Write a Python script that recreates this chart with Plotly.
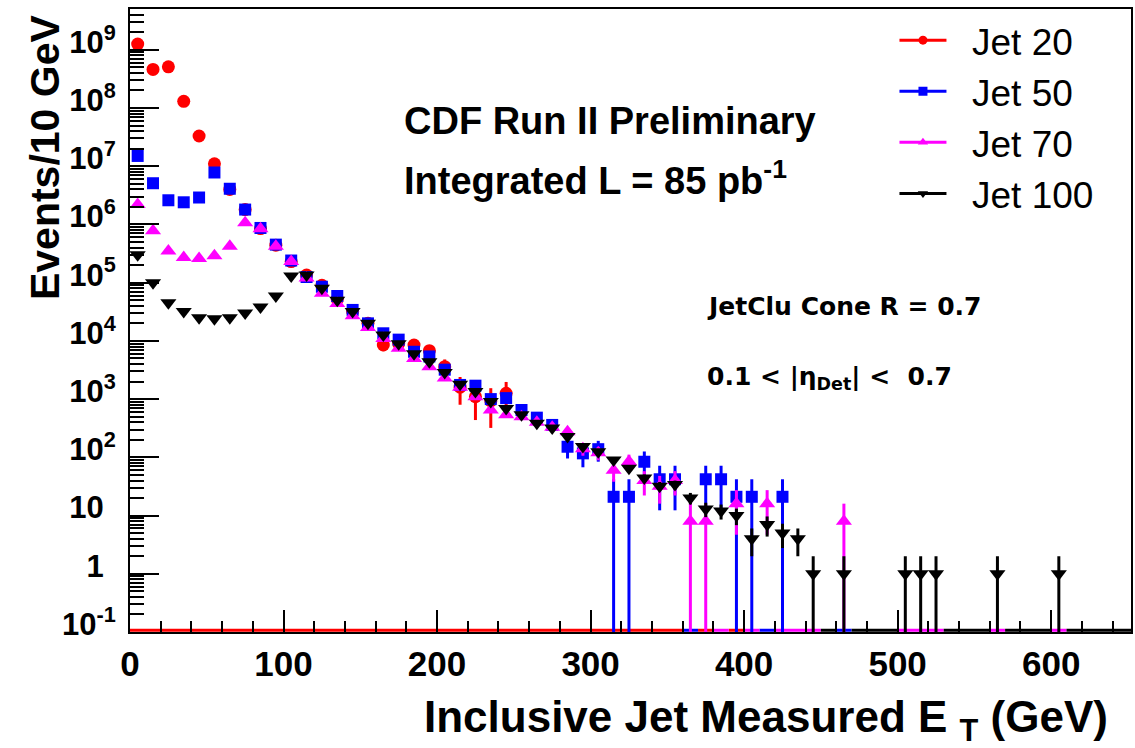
import math
import plotly.graph_objects as go

# ---------------- data (bin centres in GeV, events / 10 GeV) ----------------
jet20_et = [5, 15, 25, 35, 45, 55, 65, 75, 85, 95, 105, 115, 125, 135, 145, 155,
            165, 175, 185, 195, 205, 215, 225, 235, 245]
jet20_ev = [1.25e9, 4.6e8, 5.1e8, 1.3e8, 3.3e7, 1.1e7, 4.0e6, 1.8e6, 8.5e5, 4.4e5,
            2.3e5, 1.35e5, 9.0e4, 5.2e4, 3.2e4, 2.0e4, 8.5e3, 9.0e3, 8.5e3, 6.8e3,
            3.6e3, 1.6e3, 1.1e3, 9.3e2, 1.26e3]

jet50_et = [5, 15, 25, 35, 45, 55, 65, 75, 85, 95, 105, 115, 125, 135, 145, 155,
            165, 175, 185, 195, 205, 215, 225, 235, 245, 255, 265, 275, 285, 295,
            305, 315, 325, 335, 345, 355, 375, 385, 395, 405, 425]
jet50_ev = [1.5e7, 5.1e6, 2.6e6, 2.4e6, 2.9e6, 7.8e6, 4.1e6, 1.8e6, 8.7e5, 4.5e5,
            2.4e5, 1.25e5, 8.5e4, 5.9e4, 3.4e4, 2.0e4, 1.35e4, 1.05e4, 6.5e3, 5.4e3,
            3.2e3, 1.75e3, 1.7e3, 1.0e3, 1.04e3, 650, 480, 360, 152, 117,
            138, 21, 21, 84, 42, 42, 42, 42, 21, 21, 21]

jet70_et = [5, 15, 25, 35, 45, 55, 65, 75, 85, 95, 105, 115, 125, 135, 145, 155,
            165, 175, 185, 195, 205, 215, 225, 235, 245, 255, 265, 275, 285, 295,
            305, 315, 325, 335, 345, 355, 365, 375, 395, 415, 465]
jet70_ev = [2.2e6, 7.8e5, 3.5e5, 2.7e5, 2.6e5, 2.9e5, 4.2e5, 1.07e6, 8.4e5, 4.2e5,
            2.3e5, 1.2e5, 6.6e4, 4.4e4, 2.7e4, 1.7e4, 1.1e4, 7.5e3, 5.0e3, 3.6e3,
            2.3e3, 1.6e3, 1.1e3, 650, 540, 500, 400, 330, 275, 140,
            120, 60, 85, 40, 32, 40, 8, 8, 16, 16, 8]

jet100_et = [5, 15, 25, 35, 45, 55, 65, 75, 85, 95, 105, 115, 125, 135, 145, 155,
             165, 175, 185, 195, 205, 215, 225, 235, 245, 255, 265, 275, 285, 295,
             305, 315, 325, 335, 345, 355, 365, 375, 385, 395, 405, 415, 425, 435,
             445, 465, 505, 515, 525, 565, 605]
jet100_ev = [3.0e5, 1.0e5, 4.5e4, 3.2e4, 2.5e4, 2.4e4, 2.5e4, 3.0e4, 3.8e4, 5.9e4,
             1.3e5, 1.36e5, 8.0e4, 5.0e4, 3.2e4, 2.0e4, 1.26e4, 8.9e3, 6.0e3, 4.4e3,
             2.85e3, 1.8e3, 1.35e3, 910, 690, 540, 385, 318, 227, 153,
             125, 90, 65, 44, 32, 34, 20, 13, 12, 10, 4, 7, 5, 4,
             1, 1, 1, 1, 1, 1, 1]

# trigger prescales (events per recorded entry) -> Poisson error bars
jet20_prescale = 400
jet50_prescale = 21
jet70_prescale = 8
jet100_prescale = 1

# empty bins drawn along the axis floor (ET ranges, GeV)
jet20_floor = [(0, 360), (370, 380), (390, 400)]
jet50_floor = [(360, 370), (410, 420), (460, 470)]
jet70_floor = [(380, 390), (400, 410), (420, 450), (500, 530), (560, 570), (600, 610)]
jet100_floor = [(450, 460), (470, 500), (530, 560), (570, 600), (610, 660)]

y_ticks = [0.1, 1, 10, 1e2, 1e3, 1e4, 1e5, 1e6, 1e7, 1e8, 1e9]
HID = "<sup><span style='color:rgba(0,0,0,0)'>9</span></sup>"
y_ticktext = ["10<sup>-1</sup>", "1" + HID, "10" + HID,
              "10<sup>2</sup>", "10<sup>3</sup>", "10<sup>4</sup>", "10<sup>5</sup>",
              "10<sup>6</sup>", "10<sup>7</sup>", "10<sup>8</sup>", "10<sup>9</sup>"]
x_ticks = [0, 100, 200, 300, 400, 500, 600]

# ---------------- figure ----------------
FONT = "Liberation Sans, Arial, Helvetica, sans-serif"
NB = "\u00a0\u00a0"
series = [
    ("Jet 20", jet20_et, jet20_ev, jet20_prescale, jet20_floor, "#ff0000", "circle", 13),
    ("Jet 50", jet50_et, jet50_ev, jet50_prescale, jet50_floor, "#0000ff", "square", 12),
    ("Jet 70", jet70_et, jet70_ev, jet70_prescale, jet70_floor, "#ff00ff", "triangle-up", 14),
    ("Jet 100", jet100_et, jet100_ev, jet100_prescale, jet100_floor, "#000000", "triangle-down", 14),
]

fig = go.Figure()
FLOOR_Y = 10 ** (-1 + 0.03)

for name, et, ev, ps, floor, col, sym, ms in series:
    fx, fy = [], []
    for a, b in floor:
        fx += [a, b, None]
        fy += [FLOOR_Y, FLOOR_Y, None]
    fig.add_trace(go.Scatter(x=fx, y=fy, mode="lines", line=dict(color=col, width=3),
                             showlegend=False, hoverinfo="skip"))

for name, et, ev, ps, floor, col, sym, ms in series:
    up = [math.sqrt(v * ps) for v in ev]
    dn = [min(e, 0.9999 * v) for e, v in zip(up, ev)]
    fig.add_trace(go.Scatter(
        x=et, y=ev, mode="markers", name=name, showlegend=False,
        marker=dict(color=col, symbol=sym, size=ms, line=dict(width=0)),
        error_y=dict(type="data", array=up, arrayminus=dn, symmetric=False,
                     color=col, thickness=3, width=0)))

for name, et, ev, ps, floor, col, sym, ms in series:
    fig.add_trace(go.Scatter(
        x=[None], y=[None], mode="lines+markers", name=NB + name,
        line=dict(color=col, width=3),
        marker=dict(color=col, symbol=sym, size=9)))

# invisible trace to activate the minor-tick overlay axes
fig.add_trace(go.Scatter(x=[None], y=[None], xaxis="x2", yaxis="y2",
                         showlegend=False, hoverinfo="skip"))

XR = [0, 652]
YR = [-1, 9.70]
minor_y = [m * 10 ** d for d in range(-1, 10) for m in range(2, 10)]
minor_x = [v for v in range(20, 660, 20) if v % 100]

fig.update_layout(
    xaxis=dict(range=XR, showgrid=False, zeroline=False,
               showline=True, linecolor="black", linewidth=2, mirror=True,
               ticks="inside", ticklen=22, tickwidth=2, tickcolor="black",
               tickmode="array", tickvals=x_ticks,
               tickfont=dict(family=FONT, size=35, color="black", weight="bold")),
    yaxis=dict(type="log", range=YR, showgrid=False, zeroline=False,
               showline=True, linecolor="black", linewidth=2, mirror=True,
               ticks="inside", ticklen=29, tickwidth=2, tickcolor="black",
               tickmode="array", tickvals=y_ticks, ticktext=y_ticktext,
               tickfont=dict(family=FONT, size=31, color="black", weight="bold"),
               ticklabelstandoff=6, ticklabelshift=-8),
    xaxis2=dict(range=XR, overlaying="x", anchor="y", side="bottom",
                showgrid=False, zeroline=False, showline=False,
                tickmode="array", tickvals=minor_x, ticks="inside", ticklen=11,
                tickwidth=2, tickcolor="black", showticklabels=False),
    yaxis2=dict(type="log", range=YR, overlaying="y", anchor="x", side="left",
                showgrid=False, zeroline=False, showline=False,
                tickmode="array", tickvals=minor_y, ticks="inside", ticklen=14,
                tickwidth=1.5, tickcolor="black", showticklabels=False),
)

annotations = [
    dict(text="CDF Run II Preliminary", x=0.272, y=0.82, xanchor="left", yanchor="middle",
         font=dict(size=38, weight="bold")),
    dict(text="Integrated L = 85 pb<sup>-1</sup>", x=0.272, y=0.728, xanchor="left",
         yanchor="middle", font=dict(size=38, weight="bold")),
    dict(text="JetClu Cone R = 0.7", x=0.574, y=0.5225, xanchor="left", yanchor="middle",
         font=dict(size=25, weight="bold", family="DejaVu Sans, sans-serif")),
    dict(text="0.1 &lt; |η<sub>Det</sub>| &lt;  0.7", x=0.574, y=0.408, xanchor="left",
         yanchor="middle", font=dict(size=25, weight="bold", family="DejaVu Sans, sans-serif")),
    dict(text="Inclusive Jet Measured E <sub>T</sub> (GeV)", x=0.979, y=-0.1415,
         xanchor="right", yanchor="middle", font=dict(size=44, weight="bold")),
    dict(text="Events/10 GeV", x=-0.085, y=0.995, xanchor="center", yanchor="top",
         textangle=-90, font=dict(size=41, weight="bold")),
]
for a in annotations:
    a.update(xref="paper", yref="paper", showarrow=False)
    a["font"].setdefault("family", FONT)
    a["font"]["color"] = "black"

fig.update_layout(
    width=1135, height=748,
    margin=dict(l=130, r=2, t=9, b=116),
    paper_bgcolor="white", plot_bgcolor="white",
    font=dict(family=FONT, color="black"),
    annotations=annotations,
    legend=dict(x=0.7637, y=0.999, xanchor="left", yanchor="top",
                font=dict(family=FONT, size=37, color="black"),
                bgcolor="rgba(0,0,0,0)", borderwidth=0, itemwidth=47,
                tracegroupgap=0),
    showlegend=True,
)

fig.write_html("out.html", config={"displayModeBar": False},
               post_script="document.body.style.margin='0';")
